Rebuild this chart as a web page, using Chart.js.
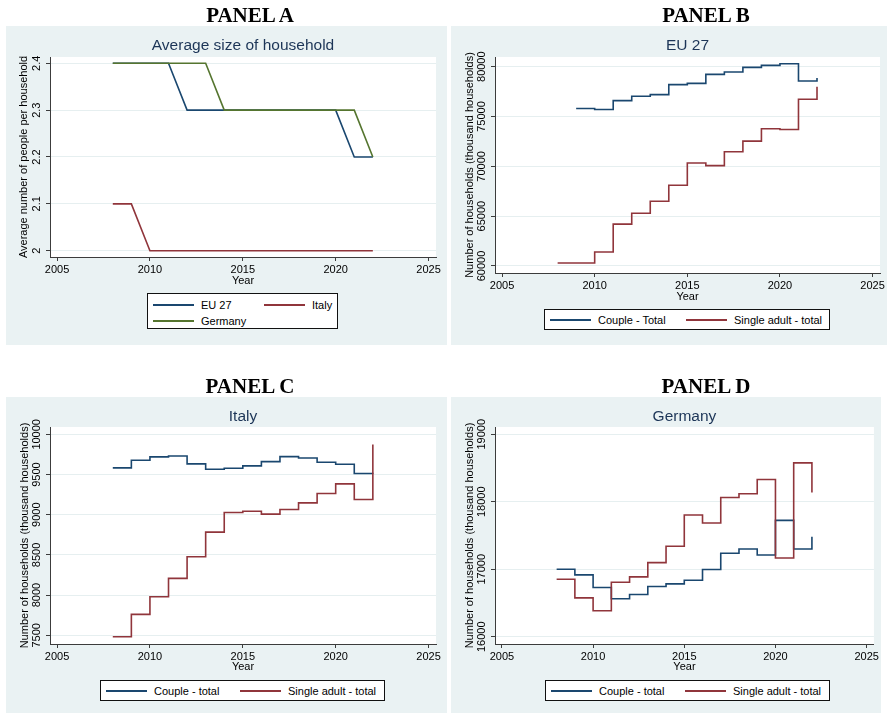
<!DOCTYPE html>
<html>
<head>
<meta charset="utf-8">
<title>Household size and composition</title>
<script src="https://cdn.jsdelivr.net/npm/chart.js@4.4.1/dist/chart.umd.min.js"></script>
<style>
  html, body { margin: 0; padding: 0; background: #fff; }
  body { position: relative; width: 887px; height: 713px; overflow: hidden;
         font-family: "Liberation Sans", Arial, sans-serif; }
  .box { position: absolute; background: #eaf2f3; }
  .box canvas { position: absolute; left: 0; top: 0; }
  .heading { position: absolute; font: bold 21px "Liberation Serif", "Times New Roman", serif;
             color: #000; transform: translate(-50%, -50%); white-space: nowrap; }
  .legend { position: absolute; background: #fff; border: 1px solid #111; box-sizing: border-box; }
  .legend .item { position: absolute; height: 14px; display: flex; align-items: center;
                  font-size: 11px; line-height: 14px; color: #000; white-space: nowrap; }
  .legend .swatch { width: 41px; height: 2px; margin-right: 7px; flex: none; }
</style>
</head>
<body>
<script>
/* ===================== DATA ===================== */

const years = [2008, 2009, 2010, 2011, 2012, 2013, 2014, 2015, 2016, 2017, 2018, 2019, 2020, 2021, 2022];
const xTickYears = [2005, 2010, 2015, 2020, 2025];

// Panel A - average size of household
const sizeEU27    = [2.4, 2.4, 2.4, 2.4, 2.3, 2.3, 2.3, 2.3, 2.3, 2.3, 2.3, 2.3, 2.3, 2.2, 2.2];
const sizeItaly   = [2.1, 2.1, 2.0, 2.0, 2.0, 2.0, 2.0, 2.0, 2.0, 2.0, 2.0, 2.0, 2.0, 2.0, 2.0];
const sizeGermany = [2.4, 2.4, 2.4, 2.4, 2.4, 2.4, 2.3, 2.3, 2.3, 2.3, 2.3, 2.3, 2.3, 2.3, 2.2];
const sizeTicks   = [2, 2.1, 2.2, 2.3, 2.4];

// Panel B - EU 27 (thousand households)
const euCoupleYears = [2009, 2010, 2011, 2012, 2013, 2014, 2015, 2016, 2017, 2018, 2019, 2020, 2021, 2022];
const euCouple = [75800, 75700, 76600, 77030, 77200, 78200, 78330, 79230, 79470, 79930, 80130, 80300, 78570, 78870];
const euSingle = [60300, 60300, 61400, 64200, 65300, 66500, 68100, 70330, 70070, 71470, 72530, 73770, 73700, 76730, 78000];
const euTicks  = [60000, 65000, 70000, 75000, 80000];

// Panel C - Italy (thousand households)
const itCouple = [9582, 9677, 9719, 9731, 9632, 9565, 9578, 9607, 9660, 9723, 9706, 9652, 9627, 9512, 9510];
const itSingle = [7483, 7761, 7980, 8208, 8477, 8783, 9027, 9044, 9007, 9065, 9147, 9263, 9383, 9189, 9872];
const itTicks  = [7500, 8000, 8500, 9000, 9500, 10000];

// Panel D - Germany (thousand households)
const deCouple = [17000, 16916, 16729, 16562, 16626, 16744, 16783, 16837, 16995, 17236, 17300, 17212, 17724, 17300, 17483];
const deSingle = [16852, 16576, 16384, 16808, 16887, 17098, 17340, 17803, 17685, 18064, 18118, 18330, 17167, 18576, 18138];
const deTicks  = [16000, 17000, 18000, 19000];

/* ===================== STYLE ===================== */

const NAVY = "#1a476f";
const MAROON = "#90353b";
const GREEN = "#55752f";
const GRID = "#e6eff0";
const AXIS = "#3c3c3c";
const TITLE_COLOR = "#1c3557";
const FONT = '"Liberation Sans", Arial, sans-serif';

Chart.defaults.font.family = FONT;
Chart.defaults.font.size = 11;
Chart.defaults.color = "#000";

const plotBackground = {
  id: "plotBackground",
  beforeDraw(chart) {
    const { ctx, chartArea: a } = chart;
    ctx.save();
    ctx.fillStyle = "#fff";
    ctx.fillRect(a.left, a.top, a.right - a.left, a.bottom - a.top);
    ctx.restore();
  },
};

function textWidth(text, font) {
  const ctx = document.createElement("canvas").getContext("2d");
  ctx.font = font;
  return ctx.measureText(text).width;
}

/* ===================== PANEL BUILDER ===================== */

function buildPanel(p) {
  const box = document.createElement("div");
  box.className = "box";
  Object.assign(box.style, {
    left: p.box.l + "px", top: p.box.t + "px",
    width: p.box.w + "px", height: p.box.h + "px",
  });
  const canvas = document.createElement("canvas");
  canvas.width = p.box.w;
  canvas.height = p.box.h;
  box.appendChild(canvas);
  document.body.appendChild(box);

  const heading = document.createElement("div");
  heading.className = "heading";
  heading.textContent = p.heading;
  heading.style.left = p.headingX + "px";
  heading.style.top = p.headingY + "px";
  document.body.appendChild(heading);

  // geometry of the plot region inside the canvas
  const titleH = p.area.t - p.box.t;
  const titleLine = 15.5 * 1.2;
  const titlePadTop = p.titleY - p.box.t - titleLine / 2;
  const yAxisW = p.area.l - p.box.l;
  const xAxisH = p.yearY - p.area.b + 6.6;
  const padRight = p.box.l + p.box.w - p.area.r;
  const padBottom = p.box.t + p.box.h - p.area.b - xAxisH;
  const widest = Math.max(...p.yTicks.map((v) => textWidth(String(v), "11px " + FONT)));

  new Chart(canvas, {
    type: "line",
    data: {
      datasets: p.series.map((s) => ({
        label: s.label,
        data: s.years.map((yr, i) => ({ x: yr, y: s.values[i] })),
        borderColor: s.color,
        borderWidth: 1.6,
        pointRadius: 0,
        tension: 0,
        stepped: p.stepped ? "before" : false,
        order: s.order,
      })),
    },
    options: {
      responsive: false,
      animation: false,
      events: [],
      layout: { padding: { left: 0, top: 0, right: padRight, bottom: padBottom } },
      plugins: {
        legend: { display: false },
        tooltip: { enabled: false },
        title: {
          display: true,
          text: p.title,
          fullSize: false,
          color: TITLE_COLOR,
          font: { size: 15.5, weight: "normal", lineHeight: 1.2 },
          padding: { top: titlePadTop, bottom: titleH - titleLine - titlePadTop },
        },
      },
      scales: {
        x: {
          type: "linear",
          min: 2004.62,
          max: 2025.4,
          afterBuildTicks: (s) => { s.ticks = xTickYears.map((v) => ({ value: v })); },
          afterFit: (s) => { s.height = xAxisH; },
          ticks: { callback: (v) => String(v), autoSkip: false, maxRotation: 0, padding: 2 },
          grid: { drawOnChartArea: false, tickLength: 4, tickColor: AXIS },
          border: { color: AXIS, width: 1 },
          title: { display: true, text: "Year", padding: 0, font: { size: 11 } },
        },
        y: {
          min: p.yMin,
          max: p.yMax,
          afterBuildTicks: (s) => { s.ticks = p.yTicks.map((v) => ({ value: v })); },
          afterFit: (s) => { s.width = yAxisW; },
          ticks: {
            callback: (v) => String(v),
            autoSkip: false,
            minRotation: 90,
            maxRotation: 90,
            crossAlign: "center",
            padding: 9 - widest / 2,
          },
          grid: { color: GRID, lineWidth: 1, tickLength: 4, tickColor: AXIS },
          border: { color: AXIS, width: 1 },
          title: {
            display: true,
            text: p.yTitle,
            font: { size: 11 },
            padding: { top: p.yTitleX - p.box.l - 6.6, bottom: 0 },
          },
        },
      },
    },
    plugins: [plotBackground],
  });

  // legend box
  const legend = document.createElement("div");
  legend.className = "legend";
  Object.assign(legend.style, {
    left: p.legend.l + "px", top: p.legend.t + "px",
    width: p.legend.w + "px", height: p.legend.h + "px",
  });
  p.series.forEach((s, i) => {
    const slot = p.legend.slots[i];
    const item = document.createElement("div");
    item.className = "item";
    item.style.left = slot[0] + "px";
    item.style.top = (slot[1] - 7) + "px";
    const sw = document.createElement("div");
    sw.className = "swatch";
    sw.style.background = s.color;
    const label = document.createElement("span");
    label.textContent = s.label;
    item.appendChild(sw);
    item.appendChild(label);
    legend.appendChild(item);
  });
  document.body.appendChild(legend);
}

/* ===================== PANELS ===================== */

buildPanel({
  heading: "PANEL A", headingX: 250, headingY: 15,
  box: { l: 6, t: 26, w: 441, h: 319 },
  area: { l: 50, t: 57, r: 436, b: 257 },
  titleY: 46, yearY: 281, yTitleX: 24,
  title: "Average size of household",
  yTitle: "Average number of people per household",
  yMin: 1.9865, yMax: 2.4135, yTicks: sizeTicks,
  stepped: false,
  series: [
    { label: "EU 27", years: years, values: sizeEU27, color: NAVY, order: 1 },
    { label: "Italy", years: years, values: sizeItaly, color: MAROON, order: 2 },
    { label: "Germany", years: years, values: sizeGermany, color: GREEN, order: 0 },
  ],
  legend: { l: 147, t: 293, w: 191, h: 36, slots: [[5, 11], [116, 11], [5, 27]] },
});

buildPanel({
  heading: "PANEL B", headingX: 706, headingY: 15,
  box: { l: 451, t: 26, w: 436, h: 319 },
  area: { l: 495, t: 57, r: 880, b: 273 },
  titleY: 46, yearY: 297, yTitleX: 470,
  title: "EU 27",
  yTitle: "Number of households (thousand households)",
  yMin: 59297, yMax: 80973, yTicks: euTicks,
  stepped: true,
  series: [
    { label: "Couple - Total", years: euCoupleYears, values: euCouple, color: NAVY, order: 1 },
    { label: "Single adult - total", years: years, values: euSingle, color: MAROON, order: 0 },
  ],
  legend: { l: 544, t: 309, w: 286, h: 21, slots: [[5, 10], [141, 10]] },
});

buildPanel({
  heading: "PANEL C", headingX: 250, headingY: 386,
  box: { l: 6, t: 397, w: 441, h: 316 },
  area: { l: 50, t: 427, r: 436, b: 644 },
  titleY: 417, yearY: 667, yTitleX: 25,
  title: "Italy",
  yTitle: "Number of households (thousand households)",
  yMin: 7392, yMax: 10091, yTicks: itTicks,
  stepped: true,
  series: [
    { label: "Couple - total", years: years, values: itCouple, color: NAVY, order: 1 },
    { label: "Single adult - total", years: years, values: itSingle, color: MAROON, order: 0 },
  ],
  legend: { l: 100, t: 680, w: 285, h: 21, slots: [[5, 10], [139, 10]] },
});

buildPanel({
  heading: "PANEL D", headingX: 706, headingY: 386,
  box: { l: 451, t: 397, w: 430, h: 316 },
  area: { l: 495, t: 427, r: 880, b: 644 },
  titleY: 417, yearY: 667, yTitleX: 470,
  title: "Germany",
  yTitle: "Number of households (thousand households)",
  yMin: 15892, yMax: 19108, yTicks: deTicks,
  stepped: true,
  series: [
    { label: "Couple - total", years: years, values: deCouple, color: NAVY, order: 1 },
    { label: "Single adult - total", years: years, values: deSingle, color: MAROON, order: 0 },
  ],
  legend: { l: 545, t: 680, w: 285, h: 21, slots: [[5, 10], [139, 10]] },
});
</script>
</body>
</html>
